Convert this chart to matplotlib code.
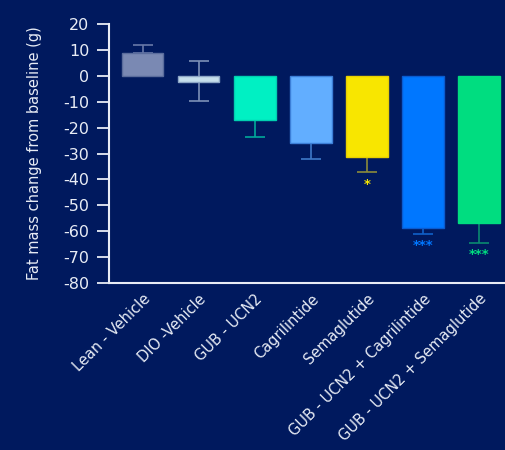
import matplotlib
matplotlib.use("Agg")
import matplotlib.pyplot as plt
import numpy as np

groups = ["Lean - Vehicle", "DIO -Vehicle", "GUB - UCN2", "Cagrilintide",
          "Semaglutide", "GUB - UCN2 + Cagrilintide", "GUB - UCN2 + Semaglutide"]
values = [9.0, -2.3, -17.1, -25.9, -31.4, -58.7, -56.9]
err_up = [2.8, 7.9, 0, 0, 0, 0, 0]
err_down = [0, 7.4, 6.5, 6.4, 5.9, 2.2, 7.7]
stars = ["", "", "", "", "*", "***", "***"]

bar_colors = ["#7A89B3", "#C6DFEC", "#00F0C3", "#62AEFF", "#F8E600", "#0077FF", "#00DD80"]
edge_colors = ["#5A6C9C", "#8CA6C6", "#00D0B0", "#3C7FD8", "#E8D000", "#0A5BD0", "#00DD80"]
err_colors = ["#6878A8", "#7C90B8", "#00A89A", "#3E78C8", "#8C8A3A", "#1060C8", "#0A8A70"]

BG = "#00195E"
FG = "#E8ECF5"

plt.rcParams["font.family"] = ["DejaVu Sans"]
plt.rcParams["axes.unicode_minus"] = False

fig = plt.figure(figsize=(5.06, 4.5), dpi=100, facecolor=BG)
ax = fig.add_axes([0.2154, 0.371, 0.7846, 0.5756], facecolor=BG)

x = np.arange(len(groups))
ax.bar(x, values, width=0.74, color=bar_colors, edgecolor=edge_colors, linewidth=1.0, zorder=3)

for i in range(len(groups)):
    ax.errorbar(x[i], values[i], yerr=[[err_down[i]], [err_up[i]]], fmt="none",
                ecolor=err_colors[i], elinewidth=1.2, capsize=7, capthick=1.2, zorder=2)
    if stars[i]:
        ax.text(x[i], values[i] - err_down[i] - 2.0, stars[i], color=bar_colors[i],
                ha="center", va="top", fontsize=9.5, fontweight="bold")

ax.set_xlim(-0.6, 6.48)
ax.set_ylim(-80, 20)
ax.set_yticks(np.arange(-80, 21, 10))
ax.set_xticks(x)
ax.set_xticklabels(groups, rotation=45, ha="right", rotation_mode="anchor")

for side in ["top", "right"]:
    ax.spines[side].set_visible(False)
for side in ["left", "bottom"]:
    ax.spines[side].set_color(FG)
    ax.spines[side].set_linewidth(1.5)

ax.tick_params(axis="y", colors=FG, labelcolor=FG, length=9, width=1.3, labelsize=11.5, pad=5)
ax.tick_params(axis="x", length=0, labelcolor=FG, labelsize=10.5, pad=6)
ax.set_ylabel("Fat mass change from baseline (g)", color=FG, fontsize=10.5)
ax.yaxis.set_label_coords(-0.168, 0.5)

fig.savefig("out.png", dpi=100, facecolor=BG)
